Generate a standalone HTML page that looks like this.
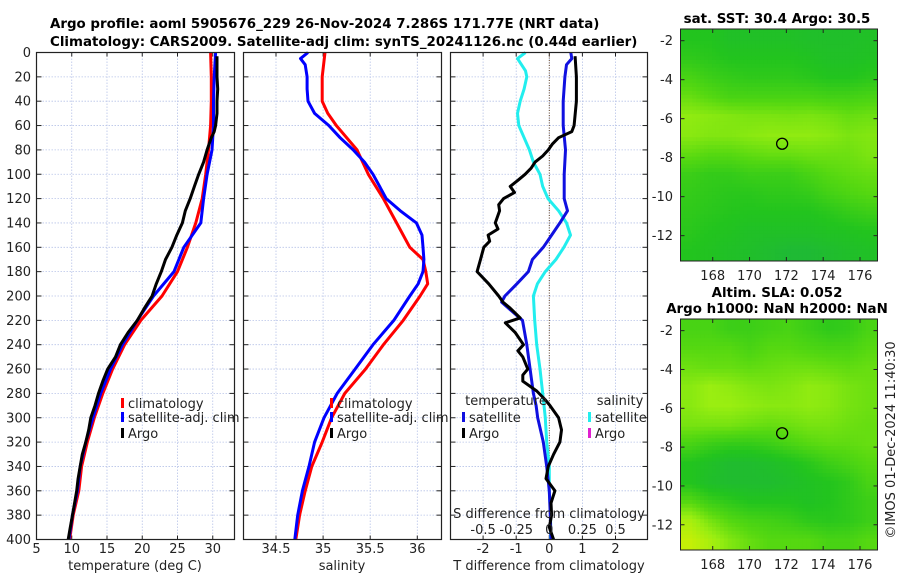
<!DOCTYPE html>
<html><head><meta charset="utf-8"><style>
body{margin:0;background:#fff;}
svg{display:block;font-family:"DejaVu Sans","Liberation Sans",sans-serif;}
.t{font-size:13px;fill:#222;}
.b{font-size:13.4px;font-weight:bold;fill:#000;}
</style></head><body>
<svg id="fig" width="900" height="580" viewBox="0 0 900 580" xmlns="http://www.w3.org/2000/svg">
<text class="b" x="50" y="28">Argo profile: aoml 5905676_229 26-Nov-2024 7.286S 171.77E (NRT data)</text>
<text class="b" x="50" y="46">Climatology: CARS2009. Satellite-adj clim: synTS_20241126.nc (0.44d earlier)</text>
<text class="b" x="777" y="23" text-anchor="middle">sat. SST: 30.4 Argo: 30.5</text>
<text class="b" x="777" y="297" text-anchor="middle">Altim. SLA: 0.052</text>
<text class="b" x="777" y="313" text-anchor="middle">Argo h1000: NaN h2000: NaN</text>
<text class="t" transform="translate(895,440) rotate(-90)" text-anchor="middle">©IMOS 01-Dec-2024 11:40:30</text>
<g id="layer"></g>
</svg>
<script>
// ---- depth axis ----
const depthTicks=[0,20,40,60,80,100,120,140,160,180,200,220,240,260,280,300,320,340,360,380,400];
// ---- temperature panel ----
const tTicks=[5,10,15,20,25,30];
const climDepth=[0,20,40,60,80,100,120,140,160,180,200,220,240,260,280,300,320,340,360,380,400];
const climTemp=[29.7,29.8,29.8,29.7,29.4,29.0,28.5,27.6,26.4,25.0,22.8,19.8,17.5,15.8,14.4,13.2,12.2,11.4,11.0,10.2,9.7];
const satTemp=[30.4,30.2,30.1,30.1,29.9,29.2,28.7,28.3,25.9,24.5,21.6,19.3,17.2,15.5,14.1,13.0,12.0,11.2,10.8,10.1,9.6];
const argoDepth=[3,10,20,30,40,50,60,65,70,75,80,90,100,110,120,130,140,150,160,170,180,190,200,210,220,230,240,250,260,270,280,290,300,310,320,330,340,350,360,370,380,390,400];
const argoTemp=[30.6,30.6,30.6,30.7,30.6,30.6,30.4,30.2,29.8,29.5,29.2,28.7,28.0,27.4,26.8,26.1,25.7,24.9,24.2,23.3,22.7,22.0,21.4,20.3,19.3,18.0,16.9,16.2,15.1,14.4,13.8,13.3,12.7,12.4,12.0,11.5,11.2,10.9,10.7,10.4,10.1,9.8,9.5];
// ---- salinity panel ----
const sTicks=[34.5,35,35.5,36];
const climSalDepth=[0,20,40,50,60,80,100,120,140,160,170,180,190,200,220,240,260,280,300,320,340,360,380,400];
const climSal=[35.02,34.99,34.99,35.05,35.14,35.36,35.48,35.64,35.78,35.92,36.06,36.09,36.11,36.03,35.85,35.64,35.45,35.23,35.09,34.99,34.88,34.81,34.75,34.71];
const satSalDepth=[0,5,10,20,30,40,50,60,70,80,90,100,110,120,130,140,150,160,170,180,190,200,220,240,260,280,300,320,340,360,380,400];
const satSal=[34.84,34.76,34.81,34.83,34.83,34.84,34.91,35.06,35.18,35.32,35.44,35.53,35.60,35.67,35.82,35.99,36.05,36.06,36.07,36.06,36.01,35.92,35.75,35.53,35.34,35.15,35.01,34.91,34.85,34.78,34.73,34.70];
// ---- difference panel ----
const dTTicks=[-2,-1,0,1,2];
const dSTickLabels=["-0.5","-0.25","0","0.25","0.5"];
const dSTicks=[-0.5,-0.25,0,0.25,0.5];
const satSDiffDepth=[0,5,15,20,30,40,50,60,70,80,90,100,110,120,130,140,150,160,170,180,190,200,220,240,260,280,300,320,340,360,380,400];
const satSDiff=[-0.18,-0.24,-0.18,-0.17,-0.19,-0.22,-0.24,-0.23,-0.19,-0.15,-0.12,-0.07,-0.05,-0.01,0.07,0.13,0.16,0.11,0.05,-0.03,-0.09,-0.12,-0.11,-0.095,-0.07,-0.05,-0.03,-0.02,0.0,0.0,0.01,0.01];
const satTDiffDepth=[0,5,10,20,40,60,80,100,120,130,140,150,160,170,180,190,200,205,220,240,260,280,290,300,320,340,360,380,400];
const satTDiff=[0.65,0.68,0.52,0.47,0.42,0.42,0.49,0.45,0.45,0.55,0.32,0.07,-0.18,-0.51,-0.63,-0.98,-1.34,-1.44,-0.81,-0.68,-0.58,-0.48,-0.40,-0.35,-0.18,-0.08,0.0,0.03,0.05];
const argoTDiffDepth=[3,20,40,60,65,70,75,80,85,90,95,100,105,110,115,120,125,130,140,145,150,155,160,170,180,190,200,205,210,218,222,230,240,245,250,260,265,270,278,285,290,300,310,320,330,340,350,360,370,380,390,400];
const argoTDiff=[0.78,0.82,0.82,0.75,0.68,0.28,0.1,-0.03,-0.2,-0.43,-0.55,-0.73,-0.95,-1.18,-1.05,-1.38,-1.53,-1.5,-1.63,-1.55,-1.85,-1.8,-1.98,-2.08,-2.18,-1.83,-1.53,-1.4,-1.18,-0.88,-1.33,-1.03,-0.78,-0.95,-0.8,-0.65,-0.8,-0.8,-0.38,-0.13,0.02,0.28,0.37,0.32,0.13,-0.03,-0.1,0.17,0.05,0.07,0.0,0.13];
// ---- maps ----
const lonTicks=[168,170,172,174,176];
const latTicks=[-2,-4,-6,-8,-10,-12];
const sstGrid=[
[.35,.35,.3,.3,.3,.3,.28,.28,.28,.3],
[.4,.38,.35,.35,.35,.35,.33,.3,.3,.32],
[.5,.45,.42,.4,.4,.4,.38,.35,.35,.38],
[.6,.55,.5,.5,.5,.5,.5,.48,.48,.5],
[.72,.7,.68,.66,.66,.65,.66,.64,.6,.62],
[.7,.68,.68,.7,.72,.72,.72,.7,.66,.68],
[.58,.55,.55,.58,.6,.6,.62,.62,.62,.66],
[.45,.42,.42,.45,.45,.45,.5,.55,.58,.6],
[.42,.4,.38,.38,.4,.4,.42,.48,.52,.55],
[.4,.38,.36,.35,.35,.35,.35,.38,.42,.45],
[.38,.35,.33,.3,.3,.3,.3,.32,.33,.35],
[.35,.33,.3,.28,.25,.22,.22,.25,.28,.3]];
const slaGrid=[
[.5,.5,.45,.45,.48,.5,.45,.4,.42,.5],
[.55,.55,.55,.5,.55,.55,.52,.5,.5,.55],
[.62,.6,.6,.58,.6,.62,.62,.6,.58,.6],
[.7,.75,.72,.68,.66,.68,.72,.7,.65,.62],
[.7,.75,.75,.72,.7,.7,.72,.7,.65,.62],
[.65,.65,.65,.62,.6,.62,.65,.65,.62,.6],
[.5,.45,.42,.42,.45,.5,.55,.58,.58,.6],
[.35,.3,.25,.25,.28,.32,.38,.45,.5,.55],
[.35,.28,.25,.25,.25,.28,.32,.35,.4,.5],
[.55,.45,.4,.35,.35,.35,.32,.35,.4,.45],
[.8,.65,.55,.5,.48,.45,.4,.38,.4,.45],
[.9,.8,.68,.6,.55,.55,.55,.5,.5,.55]];
const argoLon=[171.77];
const argoLat=[-7.286];

const NS="http://www.w3.org/2000/svg";
const layer=document.getElementById('layer');
function mk(tag,attrs,parent){const e=document.createElementNS(NS,tag);for(const k in attrs)e.setAttribute(k,attrs[k]);(parent||layer).appendChild(e);return e;}
const Y0=52.5,Y1=539.5;
const yD=d=>Y0+d*(Y1-Y0)/400;

function panel(name,x0,x1,ticks,xf,labels){
  const g=mk('g',{});
  
  
  depthTicks.forEach(d=>{if(d>0&&d<400){const l=mk('line',{x1:x0,x2:x1,y1:yD(d),y2:yD(d),stroke:'#b8c4e8','stroke-width':0.8,'stroke-dasharray':'1.5,1.5'},g);
    
    }});
  ticks.forEach(v=>{const x=xf(v);if(x>x0+1&&x<x1-1){const l=mk('line',{x1:x,x2:x,y1:Y0,y2:Y1,stroke:'#b8c4e8','stroke-width':0.8,'stroke-dasharray':'1.5,1.5'},g);
    
    }
    mk('line',{x1:x,x2:x,y1:Y0,y2:Y0+4,stroke:'#222'},g);mk('line',{x1:x,x2:x,y1:Y1,y2:Y1-4,stroke:'#222'},g);
    if(labels){const t=mk('text',{x:x,y:553,'text-anchor':'middle',class:'t'},g);t.textContent=String(v);
      
      }
  });
  depthTicks.forEach(d=>{mk('line',{x1:x0,x2:x0+5,y1:yD(d),y2:yD(d),stroke:'#222'},g);mk('line',{x1:x1,x2:x1-5,y1:yD(d),y2:yD(d),stroke:'#222'},g);});
  return g;
}
function box(g,x0,x1){const r=mk('rect',{x:x0,y:Y0,width:x1-x0,height:Y1-Y0,fill:'none',stroke:'#222','stroke-width':1.2},g);
  
  }
function line(g,xs,ds,xf,color,name,w){
  const pts=xs.map((v,i)=>xf(v).toFixed(1)+','+yD(ds[i]).toFixed(1)).join(' ');
  const p=mk('polyline',{points:pts,fill:'none',stroke:color,'stroke-width':w||3,'stroke-linejoin':'round'},g);
  
  
}
function txt(g,x,y,s,name,anchor){const t=mk('text',{x:x,y:y,class:'t','text-anchor':anchor||'start'},g);t.textContent=s;
  
  return t;}
function legend(g,x,y,color,label){
  const m=mk('rect',{x:x,y:y-10,width:3,height:10,fill:color},g);
  
  
  txt(g,x+7,y,label,'legend-entry');
}

// Panel 1 temperature
const xT=v=>36.5+(v-5)*7.05;
const g1=panel('temperature-panel',36.5,234.5,tTicks,xT,true);
depthTicks.forEach(d=>{txt(g1,31,yD(d)+4.5,String(d),'depth-tick-label','end');});
line(g1,climTemp,climDepth,xT,'#f00','climatology-temp-line');
line(g1,satTemp,climDepth,xT,'#00f','satellite-temp-line');
line(g1,argoTemp,argoDepth,xT,'#000','argo-temp-line');
box(g1,36.5,234.5);
legend(g1,121,408,'#f00','climatology');
legend(g1,121,422,'#00f','satellite-adj. clim');
legend(g1,121,438,'#000','Argo');
txt(g1,135,570,'temperature (deg C)','x-axis-title','middle');

// Panel 2 salinity
const xS=v=>276+(v-34.5)*94.2;
const g2=panel('salinity-panel',243.5,441.5,sTicks,xS,true);
line(g2,climSal,climSalDepth,xS,'#f00','climatology-salinity-line');
line(g2,satSal,satSalDepth,xS,'#00f','satellite-salinity-line');
box(g2,243.5,441.5);
legend(g2,330,408,'#f00','climatology');
legend(g2,330,422,'#00f','satellite-adj. clim');
legend(g2,330,438,'#000','Argo');
txt(g2,342,570,'salinity','x-axis-title','middle');

// Panel 3 differences
const xDT=v=>549.3+v*33.1;
const xDS=v=>549.3+v*4*33.1;
const g3=panel('difference-panel',450.5,647.5,dTTicks,xDT,true);
const zl=mk('line',{x1:xDT(0),x2:xDT(0),y1:Y0,y2:Y1,stroke:'#6a4a2a','stroke-width':1,'stroke-dasharray':'1,1.5'},g3);


line(g3,satSDiff,satSDiffDepth,xDS,'#22eeee','satellite-salinity-diff-line');
line(g3,satTDiff,satTDiffDepth,xDT,'#1010e0','satellite-temp-diff-line');
line(g3,argoTDiff,argoTDiffDepth,xDT,'#000','argo-temp-diff-line');
box(g3,450.5,647.5);
txt(g3,506,405,'temperature','legend-title','middle');
legend(g3,462,422,'#1010e0','satellite');
legend(g3,462,438,'#000','Argo');
txt(g3,620,405,'salinity','legend-title','middle');
legend(g3,588,422,'#22eeee','satellite');
legend(g3,588,438,'#e020d0','Argo');
txt(g3,549,518,'S difference from climatology','s-axis-title','middle');
dSTicks.forEach((v,i)=>{txt(g3,xDS(v),534,dSTickLabels[i],'s-tick-label','middle');});
txt(g3,549,570,'T difference from climatology','x-axis-title','middle');

// Maps
function colormap(v){
  const stops=[[0,[26,169,90]],[0.35,[34,196,30]],[0.55,[85,216,17]],[0.75,[154,238,17]],[1,[224,240,0]]];
  v=Math.max(0,Math.min(1,v));
  for(let i=1;i<stops.length;i++){if(v<=stops[i][0]){const a=stops[i-1],b=stops[i],f=(v-a[0])/(b[0]-a[0]);
    const c=a[1].map((q,k)=>Math.round(q+(b[1][k]-q)*f));return 'rgb('+c.join(',')+')';}}
  return 'rgb(224,240,0)';
}
function sample(grid,r,c){
  const nr=grid.length,nc=grid[0].length;
  r=Math.max(0,Math.min(nr-1,r));c=Math.max(0,Math.min(nc-1,c));
  const r0=Math.floor(r),c0=Math.floor(c),r1=Math.min(nr-1,r0+1),c1=Math.min(nc-1,c0+1),fr=r-r0,fc=c-c0;
  return grid[r0][c0]*(1-fr)*(1-fc)+grid[r0][c1]*(1-fr)*fc+grid[r1][c0]*fr*(1-fc)+grid[r1][c1]*fr*fc;
}
function map(name,grid,top,bot){
  const x0=680.5,x1=877.5;
  const lon0=166.25,lon1=176.95,lat0=-1.4,lat1=-13.3;
  const xL=v=>x0+(v-lon0)*(x1-x0)/(lon1-lon0);
  const yL=v=>top+(v-lat0)*(bot-top)/(lat1-lat0);
  const g=mk('g',{});
  
  
  const nr=grid.length,nc=grid[0].length,sub=5;
  const NR=nr*sub,NC=nc*sub;
  const cw=(x1-x0)/NC,rh=(bot-top)/NR;
  for(let r=0;r<NR;r++)for(let c=0;c<NC;c++){
    const v=sample(grid,(r+0.5)/sub-0.5,(c+0.5)/sub-0.5);
    const cell=mk('rect',{x:(x0+c*cw).toFixed(2),y:(top+r*rh).toFixed(2),width:(cw+0.5).toFixed(2),height:(rh+0.5).toFixed(2),fill:colormap(v)},g);
    
    
  }
  lonTicks.forEach(v=>{const x=xL(v);mk('line',{x1:x,x2:x,y1:bot,y2:bot-4,stroke:'#222'},g);mk('line',{x1:x,x2:x,y1:top,y2:top+4,stroke:'#222'},g);});
  latTicks.forEach(v=>{const y=yL(v);mk('line',{x1:x0,x2:x0+4,y1:y,y2:y,stroke:'#222'},g);mk('line',{x1:x1,x2:x1-4,y1:y,y2:y,stroke:'#222'},g);
    txt(g,673,y+4.5,String(v),'lat-tick-label','end');});
  lonTicks.forEach(v=>{txt(g,xL(v),bot+19,String(v),'lon-tick-label','middle');});
  const fr=mk('rect',{x:x0,y:top,width:x1-x0,height:bot-top,fill:'none',stroke:'#222','stroke-width':1},g);
  
  
  argoLon.forEach((lo,i)=>{const c=mk('circle',{cx:xL(lo),cy:yL(argoLat[i]),r:5.5,fill:'none',stroke:'#000','stroke-width':1.3},g);
    
    });
}
map('sst-map',sstGrid,29,261);
map('sla-map',slaGrid,319,550);
</script>
</body></html>
